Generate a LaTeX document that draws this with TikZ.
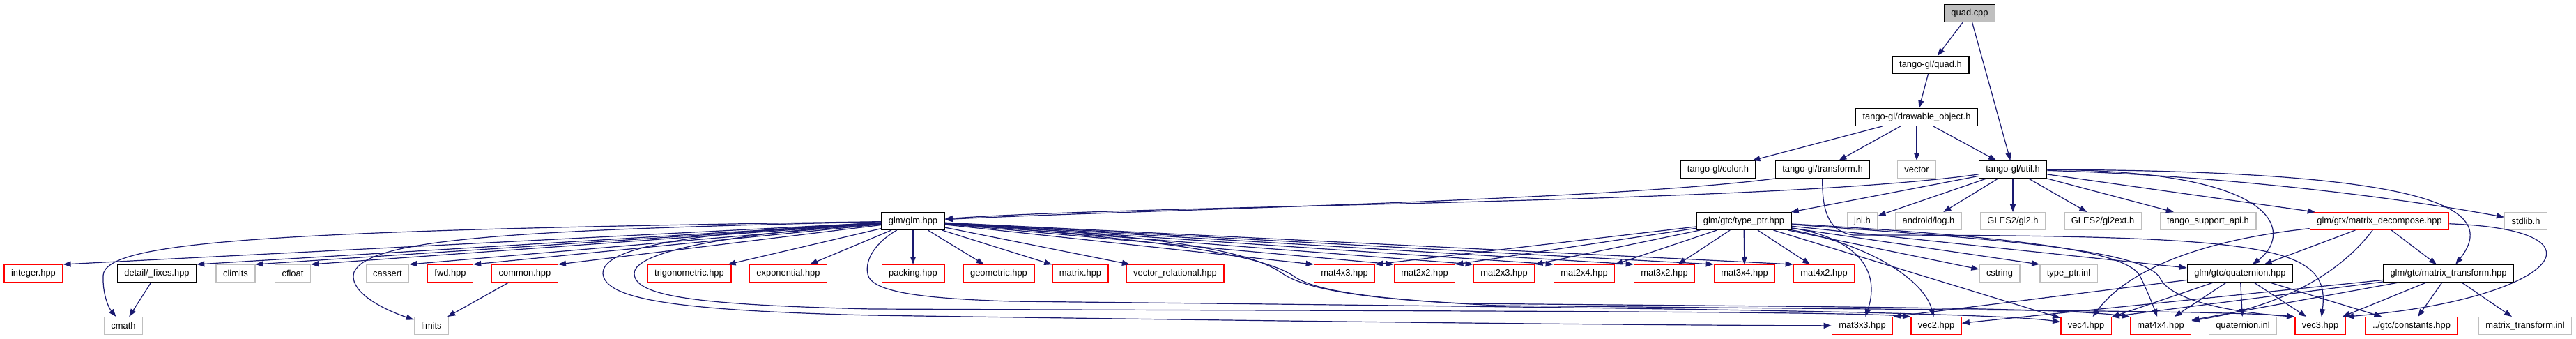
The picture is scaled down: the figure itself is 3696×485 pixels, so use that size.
\documentclass[tikz,border=0pt]{standalone}
\usepackage{fontspec}
\setmainfont{Liberation Sans}
\usetikzlibrary{arrows.meta}
\definecolor{dgink}{HTML}{000000}
\definecolor{dgblue}{HTML}{191970}
\definecolor{dgred}{HTML}{FF0000}
\definecolor{dggrey}{HTML}{BFBFBF}
\tikzset{
  dg node/.style={draw=dgink, line width=1.4pt, fill=white, minimum height=24.6pt,
    inner xsep=10pt, inner ysep=0pt, font=\fontsize{12.9}{15}\selectfont, text=dgink},
  dg root/.style={dg node, fill=dggrey},
  dg trunc/.style={dg node, draw=dgred},
  dg sys/.style={dg node, draw=dggrey},
  dg edge/.style={-{Triangle[length=11pt,width=8pt]}, line width=1.2pt, color=dgblue}
}
\begin{document}
\begin{tikzpicture}[x=1pt, y=1pt]
  \useasboundingbox (0,0) rectangle (3696,-485);
  \node[dg root] (quadcpp) at (2826,-19) {quad.cpp};
  \node[dg node] (quadh) at (2770,-93) {tango-gl/quad.h};
  \node[dg node] (drawable) at (2750,-168) {tango-gl/drawable\_object.h};
  \node[dg node] (color) at (2465,-243) {tango-gl/color.h};
  \node[dg node] (transform) at (2615,-243) {tango-gl/transform.h};
  \node[dg sys] (vector) at (2750,-243) {vector};
  \node[dg node] (util) at (2888,-243) {tango-gl/util.h};
  \node[dg node] (glm) at (1310,-317) {glm/glm.hpp};
  \node[dg node] (typeptr) at (2502,-317) {glm/gtc/type\_ptr.hpp};
  \node[dg sys] (jni) at (2672,-317) {jni.h};
  \node[dg sys] (alog) at (2767,-317) {android/log.h};
  \node[dg sys] (gltwo) at (2888,-317) {GLES2/gl2.h};
  \node[dg sys] (gltwoext) at (3017,-317) {GLES2/gl2ext.h};
  \node[dg sys] (tangosup) at (3168,-317) {tango\_support\_api.h};
  \node[dg trunc] (decompose) at (3414,-317) {glm/gtx/matrix\_decompose.hpp};
  \node[dg sys] (stdlib) at (3624,-317) {stdlib.h};
  \node[dg trunc] (integer) at (48,-392) {integer.hpp};
  \node[dg node] (fixes) at (225,-392) {detail/\_fixes.hpp};
  \node[dg sys] (climits) at (338,-392) {climits};
  \node[dg sys] (cfloat) at (420,-392) {cfloat};
  \node[dg sys] (cassert) at (556,-392) {cassert};
  \node[dg trunc] (fwd) at (646,-392) {fwd.hpp};
  \node[dg trunc] (common) at (753,-392) {common.hpp};
  \node[dg trunc] (trig) at (989,-392) {trigonometric.hpp};
  \node[dg trunc] (expo) at (1131,-392) {exponential.hpp};
  \node[dg trunc] (packing) at (1310,-392) {packing.hpp};
  \node[dg trunc] (geometric) at (1433,-392) {geometric.hpp};
  \node[dg trunc] (matrix) at (1550,-392) {matrix.hpp};
  \node[dg trunc] (vecrel) at (1686,-392) {vector\_relational.hpp};
  \node[dg trunc] (m43) at (1929,-392) {mat4x3.hpp};
  \node[dg trunc] (m22) at (2044,-392) {mat2x2.hpp};
  \node[dg trunc] (m23) at (2158,-392) {mat2x3.hpp};
  \node[dg trunc] (m24) at (2273,-392) {mat2x4.hpp};
  \node[dg trunc] (m32) at (2388,-392) {mat3x2.hpp};
  \node[dg trunc] (m34) at (2503,-392) {mat3x4.hpp};
  \node[dg trunc] (m42) at (2617,-392) {mat4x2.hpp};
  \node[dg sys] (cstring) at (2869,-392) {cstring};
  \node[dg sys] (typeptrinl) at (2968,-392) {type\_ptr.inl};
  \node[dg node] (quaternion) at (3214,-392) {glm/gtc/quaternion.hpp};
  \node[dg node] (mattransform) at (3513,-392) {glm/gtc/matrix\_transform.hpp};
  \node[dg sys] (cmath) at (177,-467) {cmath};
  \node[dg sys] (limits) at (619,-467) {limits};
  \node[dg trunc] (m33) at (2672,-467) {mat3x3.hpp};
  \node[dg trunc] (vtwo) at (2778,-467) {vec2.hpp};
  \node[dg trunc] (vfour) at (2993,-467) {vec4.hpp};
  \node[dg trunc] (m44) at (3100,-467) {mat4x4.hpp};
  \node[dg sys] (quatinl) at (3218,-467) {quaternion.inl};
  \node[dg trunc] (vthree) at (3329,-467) {vec3.hpp};
  \node[dg trunc] (constants) at (3460,-467) {../gtc/constants.hpp};
  \node[dg sys] (mtinl) at (3623,-467) {matrix\_transform.inl};

  \draw[dg edge] (quadcpp) -- (quadh);
  \draw[dg edge] (quadcpp) -- (util);
  \draw[dg edge] (quadh) -- (drawable);
  \draw[dg edge] (drawable) -- (color);
  \draw[dg edge] (drawable) -- (transform);
  \draw[dg edge] (drawable) -- (vector);
  \draw[dg edge] (drawable) -- (util);

  \draw[dg edge] (transform.south west) .. controls (2300,-288) and (1600,-302) .. (glm);
  \draw[dg edge] (transform) .. controls (2614,-305) and (2625,-333) .. (2660,-337)
    .. controls (3250,-337) and (3345,-350) .. (vthree);

  \draw[dg edge] (util) .. controls (2540,-292) and (1650,-293) .. (glm);
  \draw[dg edge] (util) -- (typeptr);
  \draw[dg edge] (util) -- (jni);
  \draw[dg edge] (util) -- (alog);
  \draw[dg edge] (util) -- (gltwo);
  \draw[dg edge] (util) -- (gltwoext);
  \draw[dg edge] (util) -- (tangosup);
  \draw[dg edge] (util) -- (decompose);
  \draw[dg edge] (util) .. controls (3200,-252) and (3450,-285) .. (stdlib);
  \draw[dg edge] (util) .. controls (3290,-245) and (3285,-340) .. (quaternion);
  \draw[dg edge] (util) .. controls (3500,-245) and (3585,-300) .. (mattransform);

  \draw[dg edge] (glm) -- (integer.north east);
  \draw[dg edge] (glm) -- (fixes.north east);
  \draw[dg edge] (glm) -- (climits.north east);
  \draw[dg edge] (glm) -- (cfloat.north east);
  \draw[dg edge] (glm) -- (cassert.north east);
  \draw[dg edge] (glm) -- (fwd.north east);
  \draw[dg edge] (glm) -- (common.north east);
  \draw[dg edge] (glm) -- (trig);
  \draw[dg edge] (glm) -- (expo);
  \draw[dg edge] (glm) -- (packing);
  \draw[dg edge] (glm) -- (geometric);
  \draw[dg edge] (glm) -- (matrix);
  \draw[dg edge] (glm) -- (vecrel);
  \draw[dg edge] (glm) -- (m43.north west);
  \draw[dg edge] (glm) -- (m22.north west);
  \draw[dg edge] (glm) -- (m23.north west);
  \draw[dg edge] (glm) -- (m24.north west);
  \draw[dg edge] (glm) -- (m32.north west);
  \draw[dg edge] (glm) -- (m34.north west);
  \draw[dg edge] (glm) -- (m42.north west);
  \draw[dg edge] (glm) .. controls (400,-330) and (150,-345) .. (148,-395)
    .. controls (147,-420) and (155,-440) .. (cmath);
  \draw[dg edge] (glm) .. controls (700,-330) and (530,-345) .. (508,-390)
    .. controls (500,-415) and (540,-440) .. (limits);
  \draw[dg edge] (glm) .. controls (950,-335) and (865,-360) .. (865,-392)
    .. controls (868,-428) and (960,-445) .. (1250,-452)
    .. controls (1800,-460) and (2300,-466) .. (m33);
  \draw[dg edge] (glm) .. controls (1050,-335) and (910,-360) .. (910,-392)
    .. controls (910,-425) and (1000,-437) .. (1250,-443)
    .. controls (2000,-446) and (2650,-446) .. (vtwo.north west);
  \draw[dg edge] (glm) .. controls (1260,-345) and (1240,-370) .. (1245,-393)
    .. controls (1250,-420) and (1330,-428) .. (1450,-432)
    .. controls (2200,-440) and (2850,-446) .. (vfour);
  \draw[dg edge] (glm) .. controls (1600,-335) and (1780,-350) .. (1840,-392)
    .. controls (1870,-413) and (1950,-428) .. (2100,-435)
    .. controls (2600,-440) and (2950,-440) .. (m44.north west);
  \draw[dg edge] (glm) .. controls (1620,-340) and (1800,-360) .. (1855,-395)
    .. controls (1885,-418) and (1980,-430) .. (2150,-438)
    .. controls (2800,-445) and (3200,-445) .. (vthree.north west);

  \draw[dg edge] (fixes) -- (cmath);
  \draw[dg edge] (common) -- (limits);

  \draw[dg edge] (typeptr) -- (m43.north east);
  \draw[dg edge] (typeptr) -- (m22.north east);
  \draw[dg edge] (typeptr) -- (m23.north east);
  \draw[dg edge] (typeptr) -- (m24.north east);
  \draw[dg edge] (typeptr) -- (m32);
  \draw[dg edge] (typeptr) -- (m34);
  \draw[dg edge] (typeptr) -- (m42);
  \draw[dg edge] (typeptr) -- (cstring);
  \draw[dg edge] (typeptr) -- (typeptrinl.north west);
  \draw[dg edge] (typeptr) -- (quaternion);
  \draw[dg edge] (typeptr) .. controls (2660,-340) and (2700,-385) .. (m33);
  \draw[dg edge] (typeptr) .. controls (2680,-350) and (2760,-400) .. (vtwo);
  \draw[dg edge] (typeptr) -- (vfour);
  \draw[dg edge] (typeptr) .. controls (2900,-340) and (3050,-360) .. (3070,-395)
    .. controls (3080,-415) and (3088,-435) .. (m44);
  \draw[dg edge] (typeptr) .. controls (2900,-345) and (3080,-360) .. (3100,-400)
    .. controls (3115,-430) and (3200,-448) .. (vthree.north west);

  \draw[dg edge] (quaternion) -- (m33.north east);
  \draw[dg edge] (quaternion) -- (vfour);
  \draw[dg edge] (quaternion) -- (m44);
  \draw[dg edge] (quaternion) -- (quatinl);
  \draw[dg edge] (quaternion) -- (vthree);
  \draw[dg edge] (quaternion) -- (constants);

  \draw[dg edge] (mattransform) -- (m44);
  \draw[dg edge] (mattransform) -- (vtwo);
  \draw[dg edge] (mattransform) -- (vthree);
  \draw[dg edge] (mattransform) -- (vfour.north east);
  \draw[dg edge] (mattransform) -- (constants);
  \draw[dg edge] (mattransform) -- (mtinl);

  \draw[dg edge] (decompose) .. controls (3150,-345) and (3050,-390) .. (vfour);
  \draw[dg edge] (decompose) -- (quaternion);
  \draw[dg edge] (decompose) .. controls (3370,-375) and (3300,-435) .. (m44);
  \draw[dg edge] (decompose) -- (mattransform);
  \draw[dg edge] (decompose) .. controls (3760,-330) and (3660,-430) .. (vthree.north east);
\end{tikzpicture}
\end{document}
